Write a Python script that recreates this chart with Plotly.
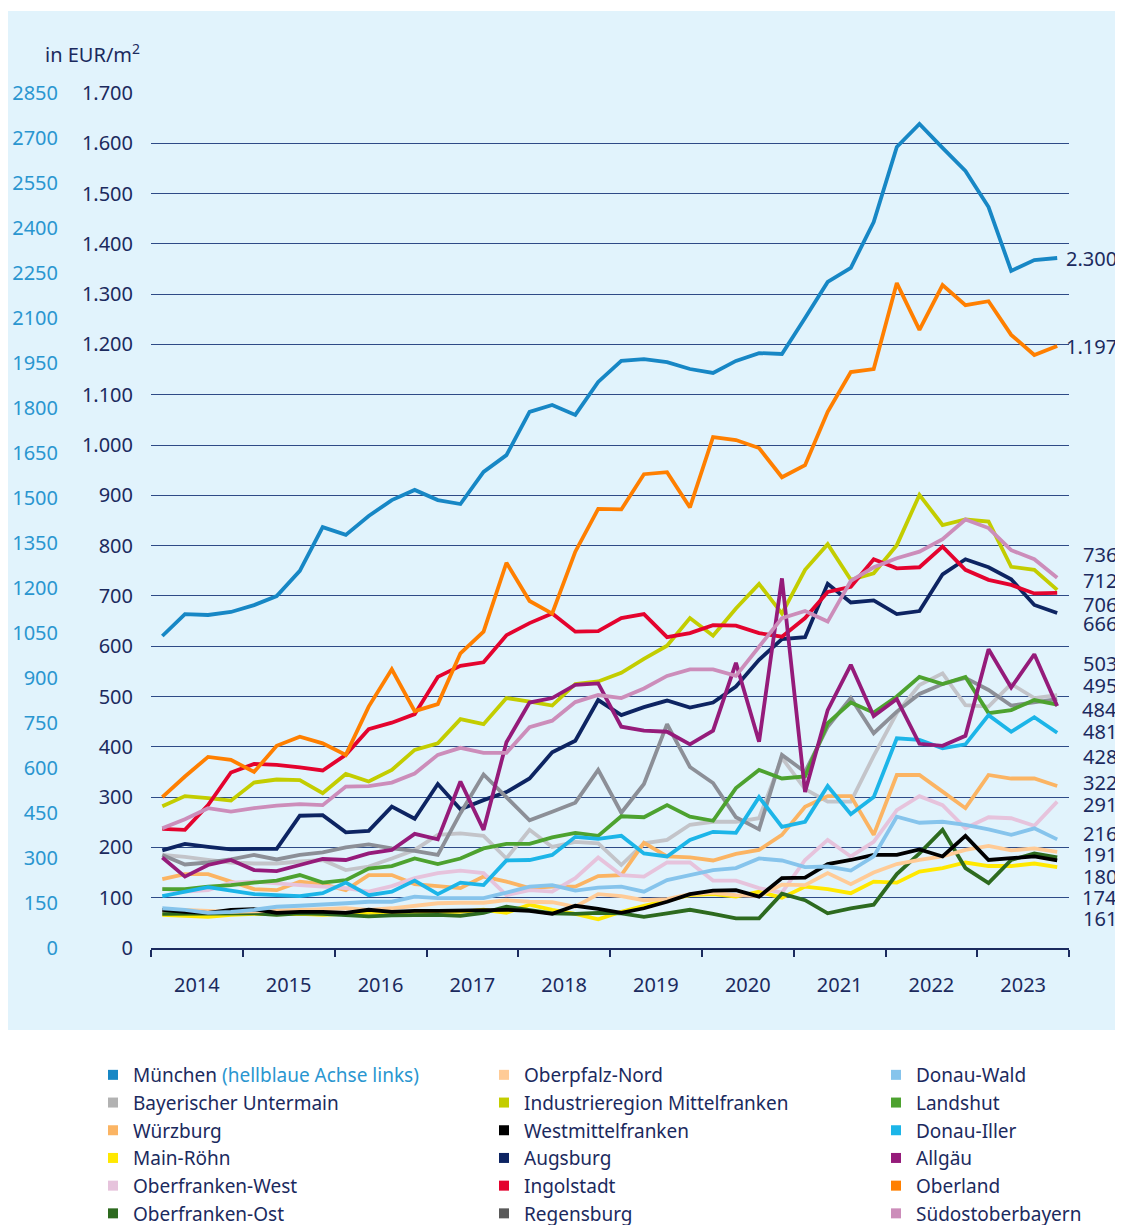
import plotly.graph_objects as go

# ---------------- data ----------------
years = list(range(2014, 2024))
quarters = [(y, q) for y in years for q in range(1, 5)]
quarter_mid = {1: "02-15", 2: "05-16", 3: "08-16", 4: "11-15"}
x_dates = [f"{y}-{quarter_mid[q]}" for (y, q) in quarters]

muenchen = [1040, 1113, 1110, 1120, 1143, 1173, 1257, 1403, 1377, 1440, 1493, 1527, 1493, 1480, 1587, 1643,
            1787, 1810, 1777, 1887, 1957, 1963, 1953, 1930, 1917, 1957, 1983, 1980, 2100, 2220, 2267, 2420,
            2670, 2747, 2667, 2590, 2470, 2257, 2293, 2300]
bay_untermain = [185, 181, 175, 170, 168, 168, 172, 175, 155, 162, 178, 195, 225, 228, 223, 178, 235, 201, 211, 208,
                 165, 208, 215, 245, 251, 251, 258, 378, 316, 291, 291, 382, 467, 523, 546, 483, 480, 525, 497, 503]
wuerzburg = [137, 147, 147, 132, 117, 115, 132, 127, 115, 145, 145, 127, 123, 119, 142, 132, 119, 122, 122, 143,
             145, 209, 182, 180, 174, 187, 195, 225, 281, 302, 302, 225, 344, 344, 311, 278, 344, 337, 337, 322]
main_roehn = [66, 64, 62, 66, 68, 67, 68, 66, 68, 70, 70, 70, 71, 72, 76, 70, 86, 76, 68, 57,
              72, 84, 95, 105, 107, 102, 112, 100, 122, 117, 109, 132, 130, 152, 159, 170, 163, 163, 168, 161]
ofr_west = [118, 112, 115, 130, 132, 128, 125, 122, 119, 112, 123, 139, 149, 154, 149, 105, 115, 112, 139, 180,
            145, 142, 170, 170, 134, 134, 119, 110, 175, 215, 182, 211, 274, 302, 284, 238, 260, 258, 243, 291]
ofr_ost = [68, 68, 69, 68, 69, 66, 69, 68, 66, 63, 65, 66, 66, 64, 70, 82, 76, 69, 68, 70,
           69, 62, 69, 76, 68, 59, 59, 108, 95, 69, 79, 86, 147, 188, 235, 159, 129, 175, 188, 180]
opf_nord = [75, 76, 74, 72, 73, 74, 76, 77, 79, 76, 79, 84, 89, 90, 90, 95, 92, 91, 82, 107,
            103, 95, 97, 107, 110, 105, 103, 126, 125, 149, 127, 150, 167, 175, 182, 195, 203, 194, 198, 191]
ind_mfr = [282, 302, 298, 293, 329, 335, 334, 308, 346, 331, 354, 394, 407, 455, 445, 497, 490, 482, 525, 530,
           547, 575, 601, 656, 621, 675, 724, 665, 752, 803, 732, 745, 801, 901, 841, 852, 848, 758, 752, 712]
westmfr = [76, 72, 70, 76, 77, 70, 72, 72, 70, 76, 72, 74, 74, 75, 76, 76, 74, 68, 84, 78,
           70, 79, 92, 107, 114, 115, 102, 139, 140, 167, 175, 185, 185, 196, 182, 223, 175, 178, 182, 174]
augsburg = [194, 207, 201, 196, 197, 197, 263, 264, 230, 233, 281, 257, 326, 276, 294, 310, 337, 389, 412, 493,
            463, 479, 492, 478, 488, 520, 573, 614, 618, 724, 687, 691, 664, 670, 743, 773, 757, 733, 682, 666]
ingolstadt = [237, 235, 284, 349, 366, 364, 359, 353, 384, 435, 448, 465, 539, 561, 568, 622, 646, 665, 629, 630,
              656, 664, 618, 626, 642, 641, 626, 619, 656, 708, 718, 773, 755, 757, 798, 752, 732, 722, 705, 706]
regensburg = [185, 166, 170, 176, 185, 176, 185, 190, 200, 206, 198, 193, 185, 268, 345, 301, 254, 271, 289, 354,
              269, 326, 445, 360, 328, 260, 236, 384, 350, 440, 497, 427, 470, 505, 525, 537, 513, 482, 488, 495]
donau_wald = [79, 76, 70, 72, 76, 82, 84, 86, 89, 92, 92, 102, 99, 99, 99, 110, 122, 125, 114, 120,
              122, 112, 135, 145, 155, 159, 178, 174, 161, 162, 154, 182, 261, 249, 251, 245, 236, 225, 238, 216]
landshut = [117, 117, 122, 125, 130, 134, 145, 130, 135, 158, 163, 178, 167, 178, 198, 207, 207, 220, 229, 223,
            262, 260, 284, 261, 253, 318, 354, 337, 341, 447, 488, 468, 500, 539, 525, 539, 467, 473, 493, 484]
donau_iller = [103, 112, 121, 114, 107, 105, 103, 109, 130, 105, 112, 134, 107, 130, 125, 174, 175, 185, 221, 217,
               223, 188, 182, 215, 231, 229, 300, 241, 251, 322, 266, 300, 417, 414, 397, 405, 463, 430, 459, 428]
allgaeu = [180, 142, 165, 175, 155, 153, 165, 177, 175, 188, 195, 227, 216, 331, 235, 409, 488, 497, 523, 526,
           440, 432, 430, 405, 432, 567, 410, 735, 310, 473, 563, 461, 495, 406, 402, 422, 594, 518, 584, 481]
oberland = [300, 341, 380, 374, 350, 402, 420, 407, 384, 480, 554, 471, 485, 586, 629, 766, 690, 665, 788, 873,
            872, 942, 946, 876, 1016, 1010, 994, 936, 960, 1066, 1145, 1151, 1322, 1229, 1318, 1278, 1286, 1219, 1179, 1197]
suedost = [238, 256, 278, 271, 278, 283, 286, 284, 321, 322, 329, 347, 384, 398, 388, 388, 439, 452, 489, 503,
           497, 516, 541, 554, 554, 541, 599, 656, 670, 649, 730, 757, 775, 788, 813, 852, 835, 791, 773, 736]

right_ticks = list(range(0, 1701, 100))
left_ticks = list(range(0, 2851, 150))

# ---------------- styling ----------------
NAVY = "#1B2A5E"
LIGHTBLUE = "#2A96D0"
GRID = "#2E4A86"
PANEL = "#E1F3FC"
FONT = "Noto Sans"

# name, values, line colour, legend colour, legend id
series = [
    ("München", muenchen, "#1787C5", "#1787C5", "legend"),
    ("Bayerischer Untermain", bay_untermain, "#C3C4C9", "#B2B2B2", "legend"),
    ("Würzburg", wuerzburg, "#FBB463", "#FBB463", "legend"),
    ("Main-Röhn", main_roehn, "#FFE800", "#FFE800", "legend"),
    ("Oberfranken-West", ofr_west, "#E6C3DC", "#E6C3DC", "legend"),
    ("Oberfranken-Ost", ofr_ost, "#2D6A1F", "#2D6A1F", "legend"),
    ("Oberpfalz-Nord", opf_nord, "#FFCB96", "#FFCB96", "legend2"),
    ("Industrieregion Mittelfranken", ind_mfr, "#C3CD00", "#C3CD00", "legend2"),
    ("Westmittelfranken", westmfr, "#000000", "#000000", "legend2"),
    ("Augsburg", augsburg, "#0D2462", "#0D2462", "legend2"),
    ("Ingolstadt", ingolstadt, "#E4032E", "#E4032E", "legend2"),
    ("Regensburg", regensburg, "#8C8F97", "#5A5A5A", "legend2"),
    ("Donau-Wald", donau_wald, "#86C4EC", "#86C4EC", "legend3"),
    ("Landshut", landshut, "#4DA22F", "#4DA22F", "legend3"),
    ("Donau-Iller", donau_iller, "#1CB5E8", "#1CB5E8", "legend3"),
    ("Allgäu", allgaeu, "#951B7A", "#951B7A", "legend3"),
    ("Oberland", oberland, "#FF7F00", "#FF7F00", "legend3"),
    ("Südostoberbayern", suedost, "#CC8DBA", "#CC8DBA", "legend3"),
]

def de_num(v):
    return f"{v:,}".replace(",", ".")

fig = go.Figure()

# lines (München on the light-blue left axis)
draw_order = [s for s in series if s[0] != "München"] + [series[0]]
for name, vals, lc, _, _ in draw_order:
    fig.add_trace(go.Scatter(
        x=x_dates, y=vals, mode="lines", name=name, showlegend=False,
        line=dict(color=lc, width=3.8),
        yaxis="y2" if name == "München" else "y",
        hovertemplate=name + ": %{y}<extra></extra>",
    ))

# legend entries (square markers)
for name, vals, _, legc, leg in series:
    label = name
    if name == "München":
        label = f"München <span style='color:{LIGHTBLUE}'>(hellblaue Achse links)</span>"
    fig.add_trace(go.Scatter(
        x=[None], y=[None], mode="markers", name=label, legend=leg,
        marker=dict(symbol="square", size=10, color=legc), hoverinfo="skip",
    ))

# end-value labels (right side)
label_order = [muenchen, oberland, suedost, ind_mfr, ingolstadt, augsburg, bay_untermain, regensburg,
               landshut, allgaeu, donau_iller, wuerzburg, ofr_west, donau_wald, opf_nord, ofr_ost,
               westmfr, main_roehn]
label_y_px = [258, 346, 554, 580, 604, 624, 663, 685, 709, 731, 756, 782, 804, 833, 854, 876, 897, 918]

# reference-pixel geometry (page body has an 8px margin)
OFF = 8
W, H = 1123 - OFF, 1225 - OFF
PLOT_L, PLOT_R, PLOT_T, PLOT_B = 151, 1069, 93, 948
PW, PH = PLOT_R - PLOT_L, PLOT_B - PLOT_T

def px_x(px):
    return (px - PLOT_L) / PW

def px_y(py):
    return (PLOT_B - py) / PH

annotations = []
for vals, py in zip(label_order, label_y_px):
    annotations.append(dict(
        x=px_x(1119), y=px_y(py), xref="paper", yref="paper", xanchor="right", yanchor="middle",
        text=de_num(vals[-1]), showarrow=False, font=dict(size=20, color=NAVY, family=FONT),
    ))
annotations.append(dict(
    x=px_x(43), y=px_y(53), xref="paper", yref="paper", xanchor="left", yanchor="middle",
    text="in EUR/m<sup>2</sup>", showarrow=False, font=dict(size=20, color=NAVY, family=FONT),
))

legend_common = dict(orientation="v", xanchor="left", yanchor="top", bgcolor="rgba(0,0,0,0)",
                     font=dict(size=19, color=NAVY, family=FONT), tracegroupgap=0,
                     y=px_y(1056))

fig.update_layout(
    width=W, height=H,
    margin=dict(l=PLOT_L - OFF, r=W - (PLOT_R - OFF), t=PLOT_T - OFF, b=H - (PLOT_B - OFF),
                autoexpand=False),
    paper_bgcolor="white", plot_bgcolor="rgba(0,0,0,0)",
    font=dict(family=FONT, color=NAVY, size=20),
    xaxis=dict(
        type="date", range=["2014-01-01", "2024-01-01"],
        tick0="2014-01-01", dtick="M12", ticklabelmode="period", tickformat="%Y",
        ticks="outside", ticklen=7, tickwidth=2, tickcolor=NAVY,
        showline=True, linecolor=NAVY, linewidth=2, showgrid=False, zeroline=False,
        tickfont=dict(size=20, color=NAVY, family=FONT), ticklabelstandoff=11,
    ),
    yaxis=dict(
        range=[0, 1700], tickmode="array", tickvals=right_ticks,
        ticktext=[de_num(v) for v in right_ticks],
        showgrid=True, gridcolor=GRID, gridwidth=1, zeroline=False, ticks="",
        tickfont=dict(size=20, color=NAVY, family=FONT), ticklabelstandoff=17,
    ),
    yaxis2=dict(
        range=[0, 2850], overlaying="y", side="left", anchor="x",
        tickmode="array", tickvals=left_ticks, ticktext=[str(v) for v in left_ticks],
        showgrid=False, zeroline=False, ticks="", showline=False,
        tickfont=dict(size=20, color=LIGHTBLUE, family=FONT), ticklabelstandoff=92,
    ),
    legend=dict(x=px_x(93), **legend_common),
    legend2=dict(x=px_x(484), **legend_common),
    legend3=dict(x=px_x(876), **legend_common),
    shapes=[dict(type="rect", xref="paper", yref="paper", layer="below",
                 x0=px_x(7), x1=px_x(1130), y0=px_y(1030), y1=px_y(11),
                 fillcolor=PANEL, line=dict(width=0))],
    annotations=annotations,
    showlegend=True,
)

fig.write_html("out.html")
